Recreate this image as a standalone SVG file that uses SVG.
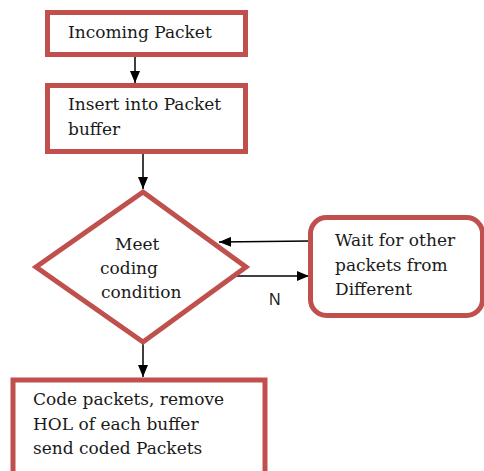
<svg xmlns="http://www.w3.org/2000/svg" width="484" height="471" viewBox="0 0 484 471">
  <style>
    .box { fill: #ffffff; stroke: #c0504d; stroke-width: 5; }
    .lbl { font-family: 'DejaVu Serif', 'Liberation Serif', serif; font-size: 17px; fill: #1a1a1a; }
    .edge { stroke: #000000; stroke-width: 1.5; fill: none; marker-end: url(#arrow); }
  </style>
  <defs>
    <marker id="arrow" markerWidth="12" markerHeight="10" refX="12" refY="5" orient="auto" markerUnits="userSpaceOnUse">
      <path d="M0,0 L12,5 L0,10 Z" fill="#000000"/>
    </marker>
  </defs>
  <rect width="484" height="471" fill="#ffffff"/>

  <g id="connectors">
    <line class="edge" x1="135" y1="57" x2="135" y2="83"/>
    <line class="edge" x1="143" y1="154" x2="143" y2="189"/>
    <line class="edge" x1="310" y1="241" x2="219" y2="242"/>
    <line class="edge" x1="236" y1="276" x2="309" y2="276"/>
    <line class="edge" x1="143" y1="343" x2="143" y2="377"/>
    <text x="269" y="305" font-family="'Liberation Sans', Arial, sans-serif" font-size="16" fill="#1a1a1a">N</text>
  </g>

  <g id="incoming">
    <rect class="box" x="47.5" y="12.5" width="198" height="42"/>
    <text class="lbl" x="68" y="38">Incoming Packet</text>
  </g>

  <g id="insert">
    <rect class="box" x="47.5" y="85.5" width="198" height="66"/>
    <text class="lbl" x="68" y="110">Insert into Packet</text>
    <text class="lbl" x="68" y="135">buffer</text>
  </g>

  <g id="decision">
    <polygon class="box" points="143,192 246,267 143,342 36,267"/>
    <text class="lbl" x="115" y="250">Meet</text>
    <text class="lbl" x="100" y="274">coding</text>
    <text class="lbl" x="101" y="298">condition</text>
  </g>

  <g id="wait">
    <rect class="box" x="310.5" y="217.5" width="172" height="98" rx="16" ry="16"/>
    <text class="lbl" x="335" y="246">Wait for other</text>
    <text class="lbl" x="335" y="271">packets from</text>
    <text class="lbl" x="335" y="295">Different</text>
  </g>

  <g id="code">
    <rect class="box" x="13" y="380" width="252" height="100"/>
    <text class="lbl" x="33" y="405">Code packets, remove</text>
    <text class="lbl" x="33" y="430">HOL of each buffer</text>
    <text class="lbl" x="33" y="454">send coded Packets</text>
  </g>
</svg>
